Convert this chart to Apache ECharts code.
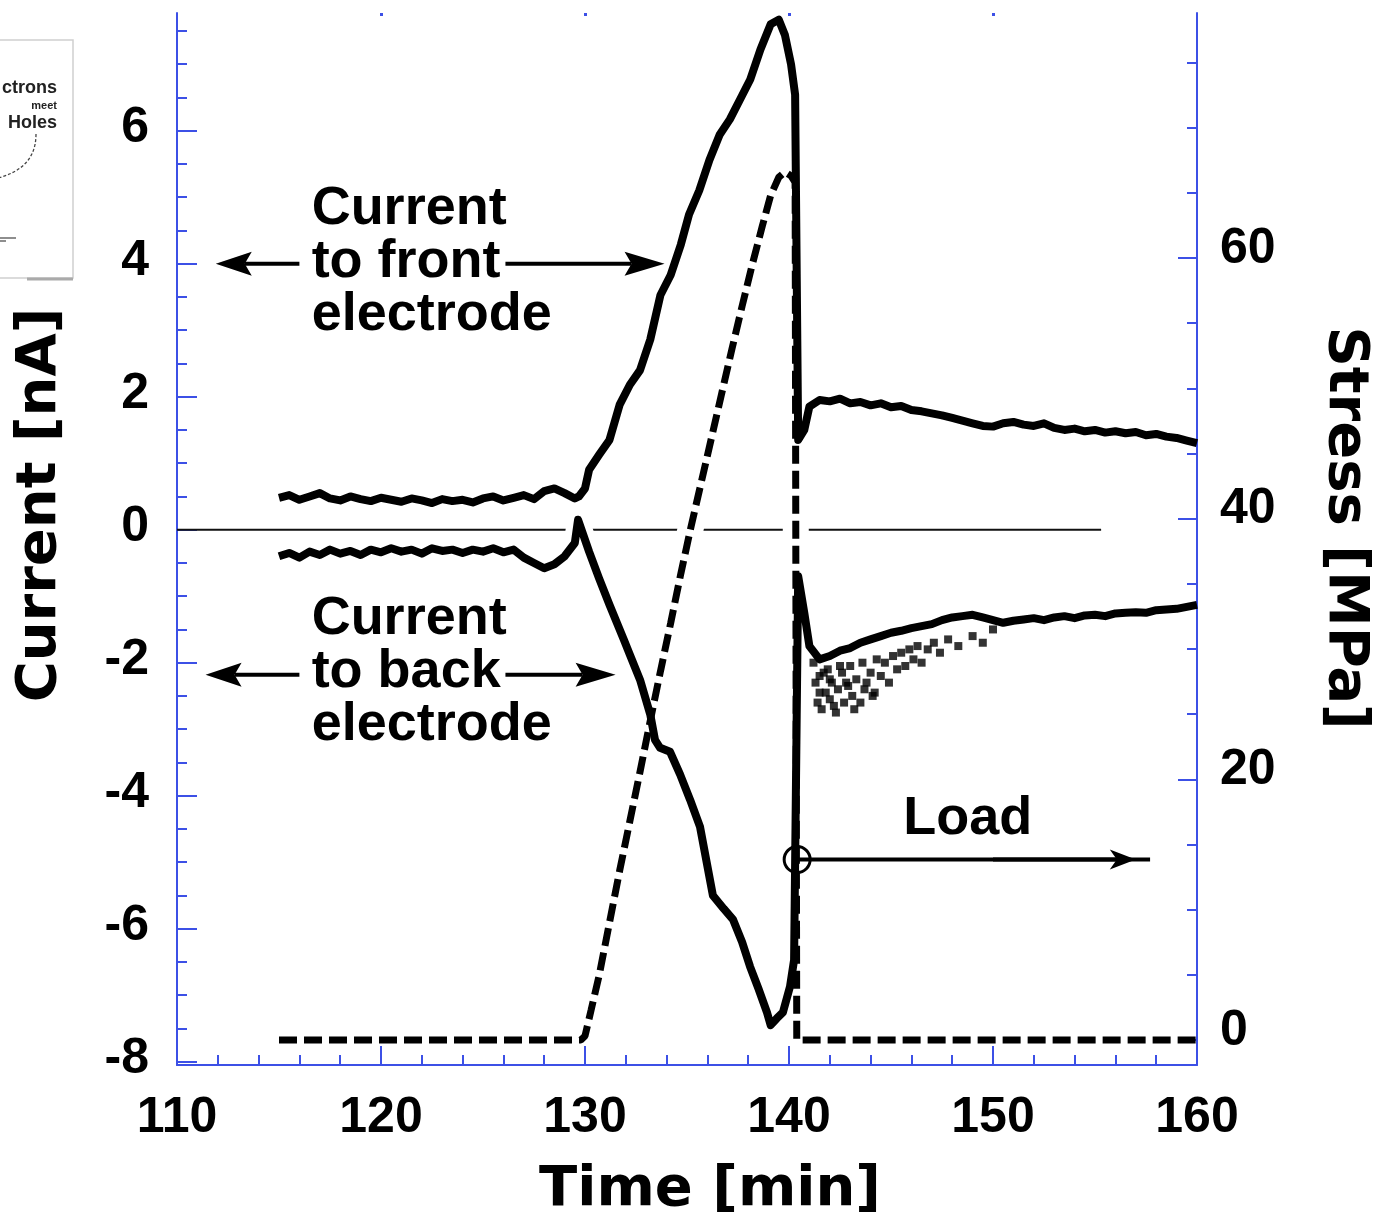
<!DOCTYPE html>
<html>
<head>
<meta charset="utf-8">
<script src="https://cdn.jsdelivr.net/npm/echarts@6/dist/echarts.min.js"></script>
<style>
  html, body { margin: 0; padding: 0; background: #fff; }
  #main { width: 1374px; height: 1216px; }
</style>
</head>
<body>
<div id="main"></div>
<script>
// tick values
const timeTicks = [110, 120, 130, 140, 150, 160];
const timeMinor = [112, 114, 116, 118, 122, 124, 126, 128, 132, 134, 136, 138, 142, 144, 146, 148, 152, 154, 156, 158];
const topDots = [120, 130, 140, 150];
const currentTicks = [-8, -6, -4, -2, 0, 2, 4, 6];
const currentMinor = [-7.5, -7, -6.5, -5.5, -5, -4.5, -3.5, -3, -2.5, -1.5, -1, -0.5, 0.5, 1, 1.5, 2.5, 3, 3.5, 4.5, 5, 5.5, 6.5, 7, 7.5];
const stressTicks = [0, 20, 40, 60];
const stressMinor = [5, 10, 15, 25, 30, 35, 45, 50, 55, 65, 70, 75];

// time bases [min]
const preTime = [115, 115.5, 116, 116.5, 117, 117.5, 118, 118.5, 119, 119.5, 120, 120.5, 121, 121.5, 122, 122.5, 123, 123.5, 124, 124.5, 125, 125.5, 126, 126.5, 127, 127.5, 128, 128.5, 129, 129.5];
const postTime = [141, 141.5, 142, 142.5, 143, 143.5, 144, 144.5, 145, 145.5, 146, 146.5, 147, 147.5, 148, 148.5, 149, 149.5, 150, 150.5, 151, 151.5, 152, 152.5, 153, 153.5, 154, 154.5, 155, 155.5, 156, 156.5, 157, 157.5, 158, 158.5, 159, 159.5, 160];

// current to front electrode [nA]
const frontPre = [0.48, 0.52, 0.45, 0.5, 0.55, 0.47, 0.44, 0.5, 0.46, 0.43, 0.48, 0.45, 0.42, 0.47, 0.44, 0.4, 0.46, 0.43, 0.45, 0.41, 0.47, 0.5, 0.44, 0.48, 0.52, 0.46, 0.58, 0.62, 0.55, 0.47];
const frontRiseTime = [129.7, 130, 130.2, 130.7, 131.2, 131.7, 132.2, 132.7, 133.2, 133.7, 134.2, 134.7, 135.1, 135.6, 136.1, 136.6, 137.1, 137.6, 138.1, 138.6, 139.1, 139.5, 139.8, 140.1, 140.3, 140.45, 140.75];
const frontRise = [0.5, 0.62, 0.9, 1.13, 1.35, 1.88, 2.18, 2.4, 2.86, 3.53, 3.83, 4.29, 4.74, 5.1, 5.56, 5.94, 6.17, 6.47, 6.77, 7.22, 7.6, 7.67, 7.44, 7.0, 6.54, 1.35, 1.5];
const frontPost = [1.85, 1.95, 1.93, 1.97, 1.9, 1.92, 1.87, 1.9, 1.84, 1.86, 1.8, 1.78, 1.75, 1.72, 1.68, 1.64, 1.6, 1.56, 1.55, 1.6, 1.62, 1.58, 1.56, 1.6, 1.53, 1.5, 1.52, 1.48, 1.5, 1.46, 1.48, 1.45, 1.47, 1.42, 1.44, 1.4, 1.38, 1.34, 1.3];

// current to back electrode [nA]
const backPre = [-0.4, -0.35, -0.42, -0.33, -0.38, -0.3, -0.36, -0.32, -0.38, -0.3, -0.34, -0.28, -0.33, -0.3, -0.36, -0.28, -0.32, -0.3, -0.35, -0.3, -0.33, -0.28, -0.34, -0.3, -0.42, -0.5, -0.58, -0.52, -0.4, -0.2];
const backRiseTime = [129.66, 130.2, 130.7, 131.2, 131.9, 132.2, 132.7, 133.2, 133.43, 133.68, 134.17, 134.66, 135.15, 135.64, 136.27, 136.8, 137.25, 137.7, 138.09, 138.5, 138.92, 139.1, 139.4, 139.7, 140.05, 140.25, 140.45, 140.75];
const backRise = [0.15, -0.33, -0.74, -1.13, -1.65, -1.88, -2.26, -2.78, -3.16, -3.28, -3.34, -3.68, -4.06, -4.47, -5.5, -5.7, -5.86, -6.2, -6.57, -6.9, -7.26, -7.45, -7.35, -7.26, -6.87, -6.47, -0.7, -1.25];
const backPost = [-1.75, -1.95, -1.9, -1.82, -1.78, -1.7, -1.65, -1.6, -1.55, -1.52, -1.48, -1.45, -1.42, -1.36, -1.32, -1.3, -1.28, -1.32, -1.36, -1.4, -1.37, -1.35, -1.33, -1.36, -1.32, -1.3, -1.33, -1.29, -1.28, -1.3, -1.26, -1.25, -1.24, -1.25, -1.21, -1.2, -1.19, -1.16, -1.13];

// scattered noise below the back current just after fracture
const noiseTime = [141.2, 141.3, 141.4, 141.5, 141.5, 141.6, 141.7, 141.8, 141.9, 142.0, 142.0, 142.1, 142.2, 142.3, 142.4, 142.5, 142.6, 142.7, 142.8, 142.9, 143.0, 143.1, 143.2, 143.3, 143.5, 143.6, 143.7, 143.8, 144.0, 144.1, 144.2, 144.3, 144.5, 144.7, 144.9, 145.1, 145.3, 145.5, 145.7, 145.9, 146.1, 146.3, 146.5, 146.8, 147.1, 147.4, 147.8, 148.3, 149.0, 149.5, 150.0];
const noiseCurrent = [-2.0, -2.3, -2.6, -2.2, -2.45, -2.7, -2.15, -2.45, -2.1, -2.55, -2.25, -2.3, -2.65, -2.75, -2.4, -2.05, -2.15, -2.6, -2.3, -2.35, -2.05, -2.5, -2.7, -2.25, -2.6, -2.0, -2.4, -2.3, -2.15, -2.5, -2.45, -1.95, -2.2, -2.0, -2.3, -1.9, -2.1, -1.85, -2.05, -1.8, -1.95, -1.75, -2.0, -1.8, -1.7, -1.85, -1.65, -1.75, -1.6, -1.7, -1.5];

// stress [MPa]
const stressTime = [115, 129.8, 130.0, 130.3, 130.7, 131.2, 131.7, 132.2, 132.7, 133.2, 133.7, 134.2, 134.7, 135.2, 135.7, 136.2, 136.7, 137.2, 137.7, 138.2, 138.7, 139.1, 139.5, 139.8, 140.1, 140.3, 140.38, 160];
const stress = [0, 0, 0.3, 2.3, 5.0, 9.0, 13.0, 16.8, 20.6, 24.5, 28.3, 32.0, 35.8, 39.4, 42.8, 46.2, 49.6, 53.0, 56.3, 59.5, 62.5, 64.8, 66.2, 66.6, 66.3, 65.8, 0, 0];

// zero current reference line
const zeroTime = [110, 155.3];
const zeroCurrent = [0, 0];

const BLUE = '#3c50e6';
const pairs = (t, v) => t.map((x, i) => [x, v[i]]);

const frontData = pairs(preTime, frontPre).concat(pairs(frontRiseTime, frontRise), pairs(postTime, frontPost));
const backData = pairs(preTime, backPre).concat(pairs(backRiseTime, backRise), pairs(postTime, backPost));
const stressData = pairs(stressTime, stress);

const tickFont = {
    color: '#000',
    fontFamily: 'Arial, "Liberation Sans", sans-serif',
    fontWeight: 'bold',
    fontSize: 50
};

function tickAxis(values, len, width) {
    return { inside: true, length: len, customValues: values, lineStyle: { color: BLUE, width: width || 2 } };
}

const chart = echarts.init(document.getElementById('main'));

chart.setOption({
    animation: false,
    grid: { left: 177, right: 177, top: 13, bottom: 151, outerBoundsMode: 'none' },
    xAxis: [
        {
            type: 'value', min: 110, max: 160, position: 'bottom',
            axisLine: { onZero: false, lineStyle: { color: BLUE, width: 2 } },
            axisTick: tickAxis(timeTicks, 19),
            axisLabel: Object.assign({ margin: 28, customValues: timeTicks }, tickFont),
            splitLine: { show: false }
        },
        {
            type: 'value', min: 110, max: 160, position: 'bottom',
            axisLine: { show: false, onZero: false },
            axisTick: tickAxis(timeMinor, 10),
            axisLabel: { show: false },
            splitLine: { show: false }
        },
        {
            type: 'value', min: 110, max: 160, position: 'top',
            axisLine: { show: false, onZero: false },
            axisTick: tickAxis(topDots, 3, 3),
            axisLabel: { show: false },
            splitLine: { show: false }
        }
    ],
    yAxis: [
        {
            type: 'value', min: -8.05, max: 7.77, position: 'left',
            axisLine: { show: true, onZero: false, lineStyle: { color: BLUE, width: 2 } },
            axisTick: tickAxis(currentTicks, 20),
            axisLabel: Object.assign({ margin: 28, verticalAlign: 'bottom', lineHeight: 5, customValues: currentTicks }, tickFont),
            splitLine: { show: false }
        },
        {
            type: 'value', min: -8.05, max: 7.77, position: 'left',
            axisLine: { show: false, onZero: false },
            axisTick: tickAxis(currentMinor, 10),
            axisLabel: { show: false },
            splitLine: { show: false }
        },
        {
            type: 'value', min: -1.92, max: 78.8, position: 'right',
            axisLine: { show: true, onZero: false, lineStyle: { color: BLUE, width: 2 } },
            axisTick: tickAxis(stressTicks, 19),
            axisLabel: Object.assign({ margin: 23, verticalAlign: 'bottom', lineHeight: 18, customValues: stressTicks }, tickFont),
            splitLine: { show: false }
        },
        {
            type: 'value', min: -1.92, max: 78.8, position: 'right',
            axisLine: { show: false, onZero: false },
            axisTick: tickAxis(stressMinor, 10),
            axisLabel: { show: false },
            splitLine: { show: false }
        }
    ],
    series: [
        {
            name: 'zero', type: 'line', xAxisIndex: 0, yAxisIndex: 0,
            data: pairs(zeroTime, zeroCurrent), symbol: 'none',
            lineStyle: { color: '#111', width: 2 }
        },
        {
            name: 'stress halo', type: 'line', xAxisIndex: 0, yAxisIndex: 2,
            data: stressData.filter(d => d[0] >= 129.5 && d[0] <= 140.5), symbol: 'none',
            lineStyle: { color: '#fff', width: 26 }
        },
        {
            name: 'back halo', type: 'line', xAxisIndex: 0, yAxisIndex: 0,
            data: backData.filter(d => d[0] >= 129 && d[0] <= 130.5), symbol: 'none',
            lineStyle: { color: '#fff', width: 22 }
        },
        {
            name: 'Stress', type: 'line', xAxisIndex: 0, yAxisIndex: 2,
            data: stressData, symbol: 'none',
            lineStyle: { color: '#000', width: 7, type: [18, 7], cap: 'butt' }
        },
        {
            name: 'Current to back electrode', type: 'line', xAxisIndex: 0, yAxisIndex: 0,
            data: backData, symbol: 'none',
            lineStyle: { color: '#000', width: 8, join: 'round' }
        },
        {
            name: 'noise', type: 'scatter', xAxisIndex: 0, yAxisIndex: 0,
            data: pairs(noiseTime, noiseCurrent), symbol: 'rect', symbolSize: 8,
            itemStyle: { color: '#000' }
        },
        {
            name: 'Current to front electrode', type: 'line', xAxisIndex: 0, yAxisIndex: 0,
            data: frontData, symbol: 'none',
            lineStyle: { color: '#000', width: 8, join: 'round' }
        }
    ]
});

// annotations, placed in data coordinates
const px = (t, v, yi) => chart.convertToPixel({ xAxisIndex: 0, yAxisIndex: yi || 0 }, [t, v]);

function arrow(from, to, headLen, headHalf, width) {
    const a = px(from[0], from[1]), b = px(to[0], to[1]);
    const dir = Math.sign(b[0] - a[0]);
    const base = b[0] - dir * headLen;
    const notch = base + dir * 7;
    return [
        { type: 'line', z: 100, shape: { x1: a[0], y1: a[1], x2: notch, y2: b[1] }, style: { stroke: '#000', lineWidth: width } },
        { type: 'polygon', z: 100, shape: { points: [[b[0], b[1]], [base, b[1] - headHalf], [notch, b[1]], [base, b[1] + headHalf]] }, style: { fill: '#000' } }
    ];
}

function note(t, v, text) {
    const p = px(t, v);
    return {
        type: 'text', z: 100, x: p[0], y: p[1],
        style: { text: text, font: 'bold 54px Arial, "Liberation Sans"', fill: '#000', lineHeight: 53, align: 'left', verticalAlign: 'top', textAlign: 'left', textVerticalAlign: 'top' }
    };
}

function axisTitle(x, y, rot, text) {
    return {
        type: 'text', z: 100, x: x, y: y, rotation: rot,
        style: { text: text, font: 'bold 56px "DejaVu Sans"', fill: '#000', align: 'center', verticalAlign: 'middle', textAlign: 'center', textVerticalAlign: 'middle' }
    };
}

function insetText(y, size, text) {
    return {
        type: 'text', z: 100, x: 57, y: y,
        style: { text: text, font: '600 ' + size + 'px Arial, "Liberation Sans"', fill: '#222', align: 'right', verticalAlign: 'middle', textAlign: 'right', textVerticalAlign: 'middle' }
    };
}

const circ = px(140.4, -4.96);
const loadEnd = px(157.7, -4.96);

const graphics = [].concat(
    arrow([116.0, 4.0], [111.9, 4.0], 36, 12, 4),
    arrow([126.1, 4.0], [133.9, 4.0], 40, 12, 4),
    arrow([116.0, -2.18], [111.4, -2.18], 36, 12, 4),
    arrow([126.1, -2.18], [131.5, -2.18], 40, 12, 4),
    [
        { type: 'line', z: 100, shape: { x1: circ[0], y1: circ[1], x2: loadEnd[0], y2: loadEnd[1] }, style: { stroke: '#000', lineWidth: 4 } }
    ],
    arrow([150, -4.96], [157.0, -4.96], 26, 10, 4),
    [
        { type: 'circle', z: 100, shape: { cx: circ[0], cy: circ[1], r: 13 }, style: { fill: 'none', stroke: '#000', lineWidth: 3 } },
        note(116.6, 5.22, 'Current\nto front\nelectrode'),
        note(116.6, -0.95, 'Current\nto back\nelectrode'),
        note(145.6, -3.95, 'Load'),
        axisTitle(40, 505, Math.PI / 2, 'Current [nA]'),
        axisTitle(1345, 528, -Math.PI / 2, 'Stress [MPa]'),
        axisTitle(710, 1190, 0, 'Time [min]'),
        // cropped inset from neighbouring figure
        { type: 'rect', z: 100, shape: { x: -5, y: 40, width: 78, height: 238 }, style: { fill: 'none', stroke: '#d0d0d0', lineWidth: 1.5 } },
        { type: 'line', z: 100, shape: { x1: 27, y1: 279, x2: 73, y2: 279 }, style: { stroke: '#aaa', lineWidth: 3 } },
        insetText(88, 18, 'ctrons'),
        insetText(106, 11, 'meet'),
        insetText(123, 18, 'Holes'),
        { type: 'bezierCurve', z: 100, shape: { x1: 36, y1: 134, cpx1: 36, cpy1: 160, cpx2: 20, cpy2: 172, x2: -2, y2: 178 }, style: { fill: 'none', stroke: '#444', lineWidth: 1.3, lineDash: [3, 2] } },
        { type: 'line', z: 100, shape: { x1: 0, y1: 238, x2: 16, y2: 238 }, style: { stroke: '#444', lineWidth: 1.2 } },
        { type: 'line', z: 100, shape: { x1: 0, y1: 241, x2: 6, y2: 241 }, style: { stroke: '#444', lineWidth: 1.2 } }
    ]
);

chart.setOption({ graphic: graphics });
</script>
</body>
</html>
